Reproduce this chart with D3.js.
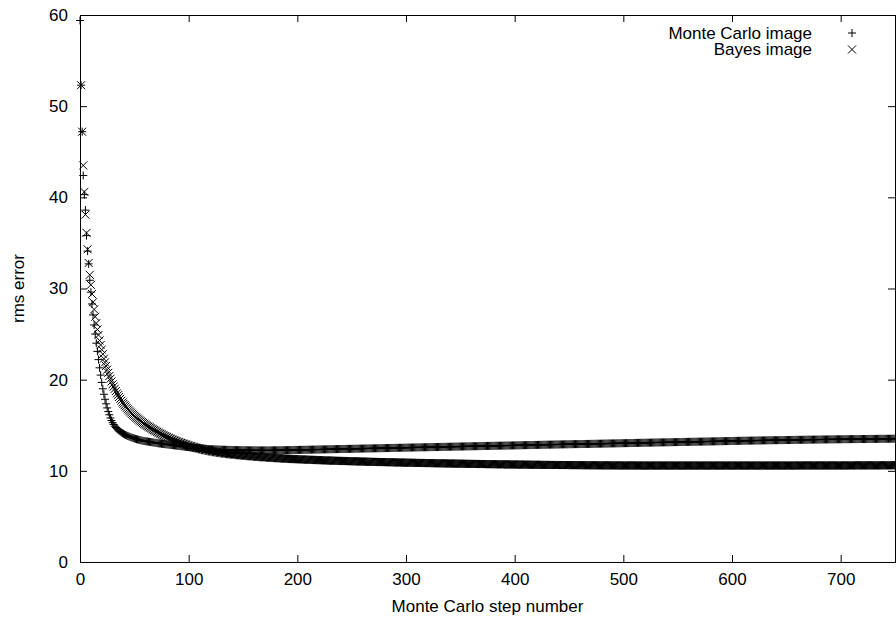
<!DOCTYPE html>
<html>
<head>
<meta charset="utf-8">
<script src="https://cdn.jsdelivr.net/npm/d3@7"></script>
<style>
body { margin: 0; background: #fff; }
text { font-family: "Liberation Sans", Arial, Helvetica, sans-serif; font-size: 17px; fill: #000; }
</style>
</head>
<body>
<svg id="chart" width="896" height="620"></svg>
<script>
// tick labels
var xTicks = [0, 100, 200, 300, 400, 500, 600, 700];
var yTicks = [0, 10, 20, 30, 40, 50, 60];
var seriesNames = ["Monte Carlo image", "Bayes image"];

// Monte Carlo image: rms error for steps 0..750, ten steps per row
var monteCarloRms = [
	59.4, 52.3, 47.2, 42.4, 40.3, 38.6, 35.8, 34.1, 32.7, 30.9,
	29.6, 28.3, 27.1, 26.0, 25.0, 24.0, 23.1, 22.2, 21.3, 20.5,
	19.7, 19.0, 18.4, 17.85, 17.35, 16.9, 16.5, 16.15, 15.8, 15.52,
	15.28, 15.08, 14.9, 14.75, 14.62, 14.5, 14.4, 14.3, 14.21, 14.13,
	14.06, 13.99, 13.93, 13.87, 13.82, 13.77, 13.72, 13.67, 13.63, 13.59,
	13.55, 13.51, 13.47, 13.44, 13.41, 13.38, 13.35, 13.32, 13.29, 13.27,
	13.25, 13.23, 13.22, 13.2, 13.18, 13.16, 13.14, 13.12, 13.1, 13.08,
	13.06, 13.04, 13.02, 13.0, 12.99, 12.97, 12.96, 12.94, 12.93, 12.91,
	12.9, 12.88, 12.87, 12.85, 12.84, 12.82, 12.81, 12.79, 12.78, 12.76,
	12.75, 12.73, 12.72, 12.7, 12.69, 12.67, 12.66, 12.64, 12.63, 12.61,
	12.6, 12.58, 12.57, 12.55, 12.54, 12.52, 12.51, 12.5, 12.49, 12.48,
	12.47, 12.46, 12.45, 12.44, 12.43, 12.42, 12.41, 12.4, 12.39, 12.38,
	12.37, 12.37, 12.36, 12.36, 12.35, 12.35, 12.34, 12.34, 12.33, 12.33,
	12.32, 12.32, 12.31, 12.31, 12.31, 12.3, 12.3, 12.3, 12.29, 12.29,
	12.29, 12.28, 12.28, 12.28, 12.28, 12.27, 12.27, 12.27, 12.27, 12.26,
	12.26, 12.26, 12.26, 12.26, 12.26, 12.25, 12.25, 12.25, 12.25, 12.25,
	12.25, 12.25, 12.25, 12.24, 12.24, 12.24, 12.24, 12.24, 12.24, 12.24,
	12.24, 12.24, 12.24, 12.24, 12.24, 12.24, 12.25, 12.25, 12.25, 12.25,
	12.25, 12.25, 12.25, 12.26, 12.26, 12.26, 12.26, 12.26, 12.27, 12.27,
	12.27, 12.27, 12.28, 12.28, 12.28, 12.28, 12.28, 12.29, 12.29, 12.29,
	12.29, 12.29, 12.3, 12.3, 12.3, 12.3, 12.31, 12.31, 12.31, 12.31,
	12.32, 12.32, 12.32, 12.32, 12.33, 12.33, 12.33, 12.33, 12.34, 12.34,
	12.34, 12.34, 12.35, 12.35, 12.35, 12.35, 12.36, 12.36, 12.36, 12.36,
	12.37, 12.37, 12.37, 12.37, 12.38, 12.38, 12.38, 12.38, 12.39, 12.39,
	12.39, 12.39, 12.4, 12.4, 12.4, 12.4, 12.41, 12.41, 12.41, 12.41,
	12.42, 12.42, 12.42, 12.42, 12.43, 12.43, 12.43, 12.43, 12.44, 12.44,
	12.44, 12.44, 12.45, 12.45, 12.45, 12.45, 12.46, 12.46, 12.46, 12.46,
	12.47, 12.47, 12.47, 12.47, 12.48, 12.48, 12.48, 12.48, 12.49, 12.49,
	12.49, 12.49, 12.5, 12.5, 12.5, 12.5, 12.51, 12.51, 12.51, 12.51,
	12.52, 12.52, 12.52, 12.52, 12.53, 12.53, 12.53, 12.53, 12.54, 12.54,
	12.54, 12.54, 12.55, 12.55, 12.55, 12.55, 12.56, 12.56, 12.56, 12.56,
	12.57, 12.57, 12.57, 12.57, 12.58, 12.58, 12.58, 12.58, 12.59, 12.59,
	12.59, 12.59, 12.6, 12.6, 12.6, 12.6, 12.61, 12.61, 12.61, 12.61,
	12.62, 12.62, 12.62, 12.62, 12.63, 12.63, 12.63, 12.63, 12.64, 12.64,
	12.64, 12.64, 12.65, 12.65, 12.65, 12.65, 12.66, 12.66, 12.66, 12.66,
	12.67, 12.67, 12.67, 12.67, 12.68, 12.68, 12.68, 12.68, 12.69, 12.69,
	12.69, 12.69, 12.7, 12.7, 12.7, 12.7, 12.71, 12.71, 12.71, 12.71,
	12.72, 12.72, 12.72, 12.72, 12.73, 12.73, 12.73, 12.73, 12.74, 12.74,
	12.74, 12.74, 12.75, 12.75, 12.75, 12.75, 12.76, 12.76, 12.76, 12.76,
	12.77, 12.77, 12.77, 12.77, 12.78, 12.78, 12.78, 12.78, 12.79, 12.79,
	12.79, 12.79, 12.8, 12.8, 12.8, 12.8, 12.81, 12.81, 12.81, 12.81,
	12.82, 12.82, 12.82, 12.82, 12.83, 12.83, 12.83, 12.83, 12.84, 12.84,
	12.84, 12.84, 12.85, 12.85, 12.85, 12.85, 12.86, 12.86, 12.86, 12.86,
	12.87, 12.87, 12.87, 12.87, 12.88, 12.88, 12.88, 12.88, 12.89, 12.89,
	12.89, 12.89, 12.9, 12.9, 12.9, 12.9, 12.91, 12.91, 12.91, 12.91,
	12.92, 12.92, 12.92, 12.92, 12.92, 12.93, 12.93, 12.93, 12.93, 12.93,
	12.94, 12.94, 12.94, 12.94, 12.94, 12.95, 12.95, 12.95, 12.95, 12.95,
	12.96, 12.96, 12.96, 12.96, 12.97, 12.97, 12.97, 12.97, 12.98, 12.98,
	12.98, 12.98, 12.99, 12.99, 12.99, 12.99, 13.0, 13.0, 13.0, 13.0,
	13.01, 13.01, 13.01, 13.01, 13.02, 13.02, 13.02, 13.02, 13.03, 13.03,
	13.03, 13.03, 13.04, 13.04, 13.04, 13.04, 13.05, 13.05, 13.05, 13.05,
	13.06, 13.06, 13.06, 13.06, 13.07, 13.07, 13.07, 13.07, 13.08, 13.08,
	13.08, 13.08, 13.09, 13.09, 13.09, 13.09, 13.1, 13.1, 13.1, 13.1,
	13.11, 13.11, 13.11, 13.11, 13.12, 13.12, 13.12, 13.12, 13.12, 13.13,
	13.13, 13.13, 13.13, 13.14, 13.14, 13.14, 13.14, 13.15, 13.15, 13.15,
	13.15, 13.16, 13.16, 13.16, 13.16, 13.17, 13.17, 13.17, 13.17, 13.17,
	13.18, 13.18, 13.18, 13.18, 13.19, 13.19, 13.19, 13.19, 13.2, 13.2,
	13.2, 13.2, 13.2, 13.21, 13.21, 13.21, 13.21, 13.22, 13.22, 13.22,
	13.22, 13.23, 13.23, 13.23, 13.23, 13.24, 13.24, 13.24, 13.24, 13.25,
	13.25, 13.25, 13.25, 13.26, 13.26, 13.26, 13.26, 13.27, 13.27, 13.27,
	13.27, 13.28, 13.28, 13.28, 13.28, 13.29, 13.29, 13.29, 13.29, 13.3,
	13.3, 13.3, 13.3, 13.31, 13.31, 13.31, 13.31, 13.31, 13.32, 13.32,
	13.32, 13.32, 13.32, 13.33, 13.33, 13.33, 13.33, 13.33, 13.34, 13.34,
	13.34, 13.34, 13.34, 13.35, 13.35, 13.35, 13.35, 13.35, 13.36, 13.36,
	13.36, 13.36, 13.36, 13.37, 13.37, 13.37, 13.37, 13.37, 13.38, 13.38,
	13.38, 13.38, 13.38, 13.38, 13.39, 13.39, 13.39, 13.39, 13.39, 13.4,
	13.4, 13.4, 13.4, 13.4, 13.4, 13.41, 13.41, 13.41, 13.41, 13.41,
	13.42, 13.42, 13.42, 13.42, 13.42, 13.42, 13.43, 13.43, 13.43, 13.43,
	13.43, 13.43, 13.44, 13.44, 13.44, 13.44, 13.44, 13.44, 13.45, 13.45,
	13.45, 13.45, 13.45, 13.45, 13.45, 13.46, 13.46, 13.46, 13.46, 13.46,
	13.46, 13.46, 13.47, 13.47, 13.47, 13.47, 13.47, 13.47, 13.47, 13.48,
	13.48, 13.48, 13.48, 13.48, 13.48, 13.48, 13.48, 13.49, 13.49, 13.49,
	13.49, 13.49, 13.49, 13.49, 13.49, 13.5, 13.5, 13.5, 13.5, 13.5,
	13.5, 13.5, 13.5, 13.5, 13.51, 13.51, 13.51, 13.51, 13.51, 13.51,
	13.51, 13.51, 13.51, 13.52, 13.52, 13.52, 13.52, 13.52, 13.52, 13.52,
	13.52
];

// Bayes image: rms error for steps 1..750, ten steps per row
var bayesRms = [
	52.3, 47.2, 43.5, 40.6, 38.1, 36.1, 34.3, 32.8, 31.5, 30.4,
	29.4, 28.5, 27.7, 26.9, 26.2, 25.5, 24.9, 24.3, 23.8, 23.3,
	22.8, 22.3, 21.9, 21.5, 21.1, 20.75, 20.4, 20.1, 19.8, 19.5,
	19.25, 19.0, 18.75, 18.5, 18.3, 18.1, 17.9, 17.7, 17.5, 17.35,
	17.2, 17.05, 16.9, 16.75, 16.62, 16.5, 16.38, 16.26, 16.14, 16.03,
	15.92, 15.82, 15.72, 15.62, 15.52, 15.43, 15.34, 15.25, 15.16, 15.08,
	15.0, 14.92, 14.85, 14.77, 14.7, 14.62, 14.55, 14.48, 14.41, 14.34,
	14.27, 14.2, 14.13, 14.07, 14.01, 13.94, 13.88, 13.82, 13.76, 13.7,
	13.64, 13.59, 13.53, 13.48, 13.43, 13.38, 13.33, 13.28, 13.23, 13.19,
	13.14, 13.1, 13.06, 13.02, 12.98, 12.94, 12.9, 12.86, 12.82, 12.78,
	12.74, 12.71, 12.67, 12.64, 12.6, 12.57, 12.53, 12.5, 12.47, 12.44,
	12.41, 12.38, 12.35, 12.32, 12.29, 12.27, 12.24, 12.22, 12.19, 12.17,
	12.14, 12.12, 12.1, 12.08, 12.06, 12.04, 12.02, 12.0, 11.98, 11.96,
	11.95, 11.93, 11.91, 11.9, 11.88, 11.87, 11.85, 11.84, 11.82, 11.81,
	11.79, 11.78, 11.77, 11.76, 11.74, 11.73, 11.72, 11.71, 11.7, 11.68,
	11.67, 11.66, 11.65, 11.64, 11.63, 11.62, 11.61, 11.6, 11.59, 11.58,
	11.57, 11.56, 11.55, 11.54, 11.53, 11.52, 11.51, 11.5, 11.49, 11.48,
	11.48, 11.47, 11.46, 11.45, 11.44, 11.43, 11.43, 11.42, 11.41, 11.4,
	11.4, 11.39, 11.38, 11.37, 11.37, 11.36, 11.35, 11.34, 11.34, 11.33,
	11.33, 11.32, 11.31, 11.31, 11.3, 11.29, 11.29, 11.28, 11.28, 11.27,
	11.27, 11.26, 11.26, 11.25, 11.25, 11.24, 11.24, 11.23, 11.23, 11.22,
	11.22, 11.21, 11.21, 11.2, 11.2, 11.19, 11.19, 11.18, 11.18, 11.17,
	11.17, 11.16, 11.16, 11.15, 11.15, 11.14, 11.14, 11.14, 11.13, 11.13,
	11.12, 11.12, 11.11, 11.11, 11.11, 11.1, 11.1, 11.1, 11.09, 11.09,
	11.08, 11.08, 11.08, 11.07, 11.07, 11.07, 11.06, 11.06, 11.06, 11.05,
	11.05, 11.04, 11.04, 11.04, 11.03, 11.03, 11.03, 11.02, 11.02, 11.02,
	11.01, 11.01, 11.01, 11.0, 11.0, 11.0, 10.99, 10.99, 10.99, 10.98,
	10.98, 10.98, 10.97, 10.97, 10.97, 10.97, 10.96, 10.96, 10.96, 10.95,
	10.95, 10.95, 10.95, 10.94, 10.94, 10.94, 10.93, 10.93, 10.93, 10.93,
	10.92, 10.92, 10.92, 10.91, 10.91, 10.91, 10.91, 10.9, 10.9, 10.9,
	10.9, 10.89, 10.89, 10.89, 10.89, 10.88, 10.88, 10.88, 10.88, 10.87,
	10.87, 10.87, 10.87, 10.86, 10.86, 10.86, 10.86, 10.85, 10.85, 10.85,
	10.85, 10.84, 10.84, 10.84, 10.84, 10.84, 10.83, 10.83, 10.83, 10.83,
	10.82, 10.82, 10.82, 10.82, 10.82, 10.81, 10.81, 10.81, 10.81, 10.8,
	10.8, 10.8, 10.8, 10.8, 10.79, 10.79, 10.79, 10.79, 10.79, 10.78,
	10.78, 10.78, 10.78, 10.78, 10.77, 10.77, 10.77, 10.77, 10.77, 10.76,
	10.76, 10.76, 10.76, 10.76, 10.75, 10.75, 10.75, 10.75, 10.75, 10.74,
	10.74, 10.74, 10.74, 10.74, 10.74, 10.73, 10.73, 10.73, 10.73, 10.73,
	10.72, 10.72, 10.72, 10.72, 10.72, 10.72, 10.71, 10.71, 10.71, 10.71,
	10.71, 10.71, 10.7, 10.7, 10.7, 10.7, 10.7, 10.7, 10.7, 10.69,
	10.69, 10.69, 10.69, 10.69, 10.69, 10.68, 10.68, 10.68, 10.68, 10.68,
	10.68, 10.68, 10.67, 10.67, 10.67, 10.67, 10.67, 10.67, 10.67, 10.66,
	10.66, 10.66, 10.66, 10.66, 10.66, 10.66, 10.66, 10.65, 10.65, 10.65,
	10.65, 10.65, 10.65, 10.65, 10.65, 10.64, 10.64, 10.64, 10.64, 10.64,
	10.64, 10.64, 10.64, 10.64, 10.63, 10.63, 10.63, 10.63, 10.63, 10.63,
	10.63, 10.63, 10.63, 10.62, 10.62, 10.62, 10.62, 10.62, 10.62, 10.62,
	10.62, 10.62, 10.62, 10.62, 10.61, 10.61, 10.61, 10.61, 10.61, 10.61,
	10.61, 10.61, 10.61, 10.61, 10.61, 10.61, 10.6, 10.6, 10.6, 10.6,
	10.6, 10.6, 10.6, 10.6, 10.6, 10.6, 10.6, 10.6, 10.6, 10.6,
	10.6, 10.6, 10.59, 10.59, 10.59, 10.59, 10.59, 10.59, 10.59, 10.59,
	10.59, 10.59, 10.59, 10.59, 10.59, 10.59, 10.59, 10.59, 10.59, 10.59,
	10.59, 10.59, 10.59, 10.59, 10.58, 10.58, 10.58, 10.58, 10.58, 10.58,
	10.58, 10.58, 10.58, 10.58, 10.58, 10.58, 10.58, 10.58, 10.58, 10.58,
	10.58, 10.58, 10.58, 10.58, 10.58, 10.58, 10.58, 10.58, 10.58, 10.58,
	10.58, 10.58, 10.58, 10.58, 10.58, 10.58, 10.58, 10.58, 10.58, 10.58,
	10.58, 10.58, 10.58, 10.58, 10.58, 10.58, 10.58, 10.58, 10.58, 10.58,
	10.58, 10.58, 10.58, 10.58, 10.58, 10.58, 10.58, 10.58, 10.58, 10.58,
	10.58, 10.58, 10.58, 10.58, 10.58, 10.58, 10.58, 10.58, 10.58, 10.58,
	10.58, 10.58, 10.58, 10.58, 10.58, 10.58, 10.58, 10.58, 10.58, 10.58,
	10.58, 10.58, 10.58, 10.58, 10.58, 10.58, 10.58, 10.58, 10.58, 10.58,
	10.58, 10.58, 10.58, 10.58, 10.58, 10.58, 10.58, 10.58, 10.58, 10.58,
	10.58, 10.58, 10.58, 10.58, 10.58, 10.58, 10.58, 10.58, 10.58, 10.58,
	10.58, 10.58, 10.58, 10.58, 10.58, 10.58, 10.58, 10.58, 10.58, 10.58,
	10.58, 10.58, 10.58, 10.58, 10.58, 10.58, 10.58, 10.58, 10.58, 10.58,
	10.58, 10.58, 10.58, 10.58, 10.58, 10.58, 10.58, 10.58, 10.58, 10.58,
	10.58, 10.58, 10.58, 10.58, 10.58, 10.58, 10.58, 10.58, 10.58, 10.58,
	10.59, 10.59, 10.59, 10.59, 10.59, 10.59, 10.59, 10.59, 10.59, 10.59,
	10.59, 10.59, 10.59, 10.59, 10.59, 10.59, 10.59, 10.59, 10.59, 10.59,
	10.59, 10.59, 10.59, 10.59, 10.59, 10.59, 10.59, 10.59, 10.59, 10.59,
	10.59, 10.59, 10.59, 10.59, 10.59, 10.59, 10.59, 10.59, 10.59, 10.59,
	10.59, 10.59, 10.59, 10.59, 10.59, 10.59, 10.59, 10.59, 10.59, 10.59,
	10.6, 10.6, 10.6, 10.6, 10.6, 10.6, 10.6, 10.6, 10.6, 10.6,
	10.6, 10.6, 10.6, 10.6, 10.6, 10.6, 10.6, 10.6, 10.6, 10.6,
	10.6, 10.6, 10.6, 10.6, 10.6, 10.6, 10.6, 10.6, 10.6, 10.6,
	10.61, 10.61, 10.61, 10.61, 10.61, 10.61, 10.61, 10.61, 10.61, 10.61,
	10.61, 10.61, 10.61, 10.61, 10.61, 10.61, 10.61, 10.61, 10.61, 10.61
];

// the plot box inside the 896x620 picture
var box = {left: 80, right: 895, top: 15, bottom: 562};
var tickLength = 7;
var markerRadius = 4;

var svg = d3.select("#chart");

var x = d3.scaleLinear()
	.domain([0, 750])
	.range([box.left, box.right]);

var y = d3.scaleLinear()
	.domain([0, 60])
	.range([box.bottom, box.top]);

// pair each value with its step number
function toPoints(firstStep, values) {
	return values.map(function(v, i) {
		return {step: firstStep + i, value: v};
	});
}

var monteCarloPoints = toPoints(0, monteCarloRms);
var bayesPoints = toPoints(1, bayesRms);

// gnuplot style point shapes
var plusPath = "M" + (-markerRadius) + ",0H" + markerRadius + "M0," + (-markerRadius) + "V" + markerRadius;
var timesPath = "M" + (-markerRadius) + "," + (-markerRadius) + "L" + markerRadius + "," + markerRadius +
	"M" + (-markerRadius) + "," + markerRadius + "L" + markerRadius + "," + (-markerRadius);

// frame round the plot
svg.append("rect")
	.attr("x", box.left + 0.5)
	.attr("y", box.top + 0.5)
	.attr("width", box.right - box.left)
	.attr("height", box.bottom - box.top)
	.attr("fill", "none")
	.attr("stroke", "#000")
	.attr("stroke-width", 1);

// left axis with labels, ticks pointing inwards
svg.append("g")
	.attr("class", "axis axis--y")
	.attr("transform", "translate(" + box.left + ",0)")
	.call(d3.axisLeft(y).tickValues(yTicks).tickSizeInner(-tickLength).tickSizeOuter(0).tickPadding(12));

// mirrored ticks on the right
svg.append("g")
	.attr("transform", "translate(" + box.right + ",0)")
	.call(d3.axisRight(y).tickValues(yTicks).tickSizeInner(-tickLength).tickSizeOuter(0).tickFormat(""));

// bottom axis with labels
svg.append("g")
	.attr("class", "axis axis--x")
	.attr("transform", "translate(0," + box.bottom + ")")
	.call(d3.axisBottom(x).tickValues(xTicks).tickSizeInner(-tickLength).tickSizeOuter(0).tickPadding(11));

// mirrored ticks on top
svg.append("g")
	.attr("transform", "translate(0," + box.top + ")")
	.call(d3.axisTop(x).tickValues(xTicks).tickSizeInner(-tickLength).tickSizeOuter(0).tickFormat(""));

// the frame is drawn by the rect, so drop the axis domain lines
svg.selectAll(".domain").remove();
svg.selectAll(".tick line").attr("stroke", "#000");
svg.selectAll(".tick text")
	.attr("font-family", null)
	.attr("font-size", null)
	.attr("fill", "#000");

// axis titles
svg.append("text")
	.attr("x", (box.left + box.right) / 2)
	.attr("y", 612)
	.attr("text-anchor", "middle")
	.text("Monte Carlo step number");

svg.append("text")
	.attr("transform", "translate(24," + ((box.top + box.bottom) / 2) + ") rotate(-90)")
	.attr("text-anchor", "middle")
	.text("rms error");

// the points, Monte Carlo first, Bayes on top
svg.append("g")
	.selectAll("path")
	.data(monteCarloPoints)
	.enter()
	.append("path")
	.attr("d", plusPath)
	.attr("transform", function(d) {
		return "translate(" + x(d.step) + "," + y(d.value) + ")";
	})
	.attr("fill", "none")
	.attr("stroke", "#000")
	.attr("stroke-width", 1);

svg.append("g")
	.selectAll("path")
	.data(bayesPoints)
	.enter()
	.append("path")
	.attr("d", timesPath)
	.attr("transform", function(d) {
		return "translate(" + x(d.step) + "," + y(d.value) + ")";
	})
	.attr("fill", "none")
	.attr("stroke", "#000")
	.attr("stroke-width", 1);

// legend in the top right corner
var legend = svg.append("g")
	.selectAll("g")
	.data(seriesNames)
	.enter()
	.append("g")
	.attr("transform", function(d, i) {
		return "translate(0," + (33 + i * 16.5) + ")";
	});

legend.append("text")
	.attr("x", 812)
	.attr("dy", "0.35em")
	.attr("text-anchor", "end")
	.text(function(d) {
		return d;
	});

legend.append("path")
	.attr("d", function(d, i) {
		return i === 0 ? plusPath : timesPath;
	})
	.attr("transform", "translate(852,0)")
	.attr("fill", "none")
	.attr("stroke", "#000")
	.attr("stroke-width", 1);
</script>
</body>
</html>
